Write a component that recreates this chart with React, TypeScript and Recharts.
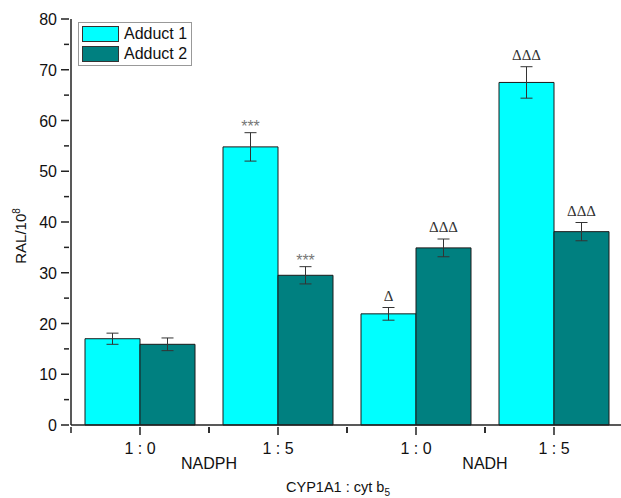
import { BarChart, Bar, XAxis, YAxis, ErrorBar, LabelList, Legend } from "recharts";

const keys = ["NADPH 1:0", "NADPH 1:5", "NADH 1:0", "NADH 1:5"];
const tickLabels = ["1 : 0", "1 : 5", "1 : 0", "1 : 5"];
const groupLabels = ["NADPH", "NADH"];
const adduct1 = [17.0, 54.8, 21.9, 67.5];
const adduct1Err = [1.1, 2.8, 1.25, 3.1];
const adduct2 = [15.9, 29.5, 34.9, 38.1];
const adduct2Err = [1.25, 1.7, 1.75, 1.8];
const adduct1Notes = ["", "***", "\u0394", "\u0394\u0394\u0394"];
const adduct2Notes = ["", "***", "\u0394\u0394\u0394", "\u0394\u0394\u0394"];
const yTicks = [0, 5, 10, 15, 20, 25, 30, 35, 40, 45, 50, 55, 60, 65, 70, 75, 80];

const data = keys.map((k, i) => ({
  key: k,
  a1: adduct1[i],
  e1: adduct1Err[i],
  n1: adduct1Notes[i],
  a2: adduct2[i],
  e2: adduct2Err[i],
  n2: adduct2Notes[i],
}));

const W = 630;
const H = 498;
const M = { top: 19, right: 7, left: 0, bottom: 43 };
const Y_W = 71;
const BAND = (W - M.left - M.right - Y_W) / keys.length;
const FONT = "'Liberation Sans', Arial, sans-serif";
const AXIS = "#222";

const YTick = (props: any) => {
  const { x, y, payload } = props;
  const major = payload.value % 10 === 0;
  return (
    <g>
      <line x1={x - (major ? 8 : 5)} x2={x} y1={y} y2={y} stroke={AXIS} strokeWidth={1.5} />
      {major && (
        <text x={x - 12} y={y + 6} textAnchor="end" fontSize={16} fontFamily={FONT} fill="#111">
          {payload.value}
        </text>
      )}
    </g>
  );
};

const XTick = (props: any) => {
  const { x, y, payload, index } = props;
  return (
    <g>
      <line x1={x} x2={x} y1={y} y2={y + 8} stroke={AXIS} strokeWidth={1.5} />
      <line x1={x - BAND / 2} x2={x - BAND / 2} y1={y} y2={y + 6} stroke={AXIS} strokeWidth={1.5} />
      <line x1={x + BAND / 2} x2={x + BAND / 2} y1={y} y2={y + 6} stroke={AXIS} strokeWidth={1.5} />
      <text x={x} y={y + 27} textAnchor="middle" fontSize={16} fontFamily={FONT} fill="#111">
        {tickLabels[index]}
      </text>
      {index % 2 === 1 && (
        <text x={x - BAND / 2} y={y + 42} textAnchor="middle" fontSize={16} fontFamily={FONT} fill="#111">
          {groupLabels[(index - 1) / 2]}
        </text>
      )}
    </g>
  );
};

const makeNote = (values: number[], errs: number[]) => (props: any) => {
  const { x, y, width, height, value, index } = props;
  if (!value) return null;
  const errTop = y - (errs[index] * height) / values[index];
  const isStar = value === "***";
  return (
    <text
      x={x + width / 2}
      y={isStar ? errTop - 1 : errTop - 7}
      textAnchor="middle"
      fontSize={isStar ? 16 : 15}
      fontFamily={isStar ? FONT : "'Liberation Serif', 'Times New Roman', serif"}
      fill={isStar ? "#777" : "#333"}
    >
      {value}
    </text>
  );
};

const legendItems = [
  { name: "Adduct 1", color: "#00FFFF" },
  { name: "Adduct 2", color: "#008080" },
];

const LegendBox = () => (
  <div
    style={{
      border: "1px solid #999",
      background: "#fff",
      padding: "1px 4px 1px 3px",
      fontFamily: FONT,
      fontSize: 16,
      color: "#111",
    }}
  >
    {legendItems.map((it) => (
      <div key={it.name} style={{ display: "flex", alignItems: "center", height: 20 }}>
        <span style={{ width: 35, height: 14, background: it.color, border: "1px solid #333", marginRight: 5 }} />
        <span>{it.name}</span>
      </div>
    ))}
  </div>
);

export default function App() {
  return (
    <div style={{ position: "absolute", left: 0, top: 0, width: 621, height: H, overflow: "hidden", background: "#fff" }}>
      <BarChart width={W} height={H} data={data} margin={M} barCategoryGap={14} barGap={0}>
        <XAxis
          dataKey="key"
          height={30}
          tickSize={0}
          tickLine={false}
          tick={<XTick />}
          interval={0}
          axisLine={{ stroke: AXIS, strokeWidth: 1.5 }}
        />
        <YAxis
          width={Y_W}
          domain={[0, 80]}
          ticks={yTicks}
          interval={0}
          tickSize={0}
          tickLine={false}
          tick={<YTick />}
          axisLine={{ stroke: AXIS, strokeWidth: 1.5 }}
        />
        <Legend
          layout="vertical"
          align="center"
          verticalAlign="middle"
          content={<LegendBox />}
          wrapperStyle={{ position: "absolute", left: 78, top: 22, width: "auto", height: "auto" }}
        />
        <Bar dataKey="a1" name="Adduct 1" fill="#00FFFF" stroke="#1a1a1a" strokeWidth={1} isAnimationActive={false}>
          <ErrorBar dataKey="e1" width={6} stroke="#333" strokeWidth={1} />
          <LabelList dataKey="n1" content={makeNote(adduct1, adduct1Err)} />
        </Bar>
        <Bar dataKey="a2" name="Adduct 2" fill="#008080" stroke="#1a1a1a" strokeWidth={1} isAnimationActive={false}>
          <ErrorBar dataKey="e2" width={6} stroke="#333" strokeWidth={1} />
          <LabelList dataKey="n2" content={makeNote(adduct2, adduct2Err)} />
        </Bar>
        <text x={26} y={236} transform="rotate(-90 26 236)" textAnchor="middle" fontSize={15} fontFamily={FONT} fill="#111">
          RAL/10
          <tspan dy={-6} fontSize={10}>8</tspan>
        </text>
        <text x={338} y={492} textAnchor="middle" fontSize={14.5} fontFamily={FONT} fill="#111">
          CYP1A1 : cyt b
          <tspan dy={4} fontSize={10}>5</tspan>
        </text>
      </BarChart>
    </div>
  );
}
